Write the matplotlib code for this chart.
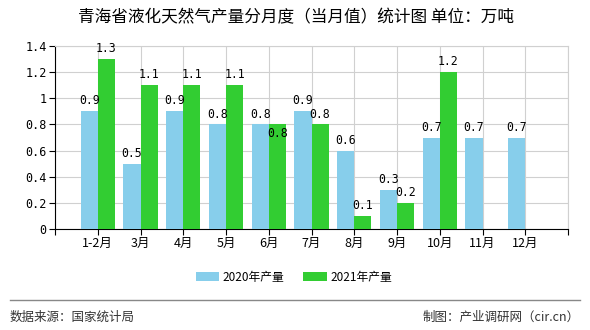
import matplotlib
matplotlib.use("Agg")
import matplotlib.pyplot as plt
import numpy as np

plt.rcParams['font.family'] = ['Noto Sans CJK SC', 'DejaVu Sans']

categories = ['1-2月', '3月', '4月', '5月', '6月', '7月', '8月', '9月', '10月', '11月', '12月']
v2020 = [0.9, 0.5, 0.9, 0.8, 0.8, 0.9, 0.6, 0.3, 0.7, 0.7, 0.7]
v2021 = [1.3, 1.1, 1.1, 1.1, 0.8, 0.8, 0.1, 0.2, 1.2, None, None]
yticks = [0, 0.2, 0.4, 0.6, 0.8, 1.0, 1.2, 1.4]
ytick_labels = ['0', '0.2', '0.4', '0.6', '0.8', '1', '1.2', '1.4']

c2020 = '#87CEEB'
c2021 = '#32CD32'

fig = plt.figure(figsize=(5.9, 3.3), dpi=100)
ax = fig.add_axes([55/590, 1-229/330, 513/590, 183/330])

x = np.arange(len(categories))
w = 0.4
mono = ['DejaVu Sans Mono']
lfs = 8.3
ax.bar(x - w/2, v2020, width=w, color=c2020, zorder=3, label='2020年产量')
for xi, v in zip(x, v2020):
    ax.text(xi - w/2, v + 0.03, f'{v:g}', ha='center', va='bottom', fontsize=lfs, family=mono, zorder=5)
ax.bar([xi + w/2 for xi, v in zip(x, v2021) if v is not None],
       [v for v in v2021 if v is not None], width=w, color=c2021, zorder=3, label='2021年产量')
for xi, v, v0 in zip(x, v2021, v2020):
    if v is None:
        continue
    if v == v0:
        # label collides with the 2020 one: shift it below, as in the original
        ax.text(xi + w/2, v - 0.02, f'{v:g}', ha='center', va='top', fontsize=lfs, family=mono, zorder=5)
    else:
        ax.text(xi + w/2, v + 0.03, f'{v:g}', ha='center', va='bottom', fontsize=lfs, family=mono, zorder=5)

ax.set_xlim(-1, len(categories))
ax.set_ylim(0, 1.4)
ax.set_yticks(yticks)
ax.set_yticklabels(ytick_labels, family=mono, fontsize=8.5)
ax.set_xticks(np.arange(-1, len(categories) + 1))
ax.set_xticklabels([''] + categories + [''], fontsize=9)
ax.grid(True, color='#d0d0d0', linewidth=0.8, zorder=0)
for s in ['top', 'right']:
    ax.spines[s].set_color('#d0d0d0')
for s in ['left', 'bottom']:
    ax.spines[s].set_color('black')
ax.tick_params(axis='both', length=4, width=0.8, pad=2, color='black')

fig.text(296/590, 1-18/330, '青海省液化天然气产量分月度（当月值）统计图 单位：万吨', ha='center', va='center', fontsize=12)

leg = fig.legend(loc='center', bbox_to_anchor=(294/590, 1-277/330), ncol=2, frameon=False,
                 fontsize=8.5, handlelength=2.0, handleheight=0.8, columnspacing=1.6, handletextpad=0.3)

fig.add_artist(plt.Line2D([10/590, 580/590], [1-300/330, 1-300/330], color='#888888', linewidth=1.0))
fig.text(10/590, 1-317/330, '数据来源：国家统计局', ha='left', va='center', fontsize=9, color='#333333')
fig.text(580/590, 1-317/330, '制图：产业调研网（cir.cn）', ha='right', va='center', fontsize=9, color='#333333')

fig.savefig('out.png', dpi=100)
